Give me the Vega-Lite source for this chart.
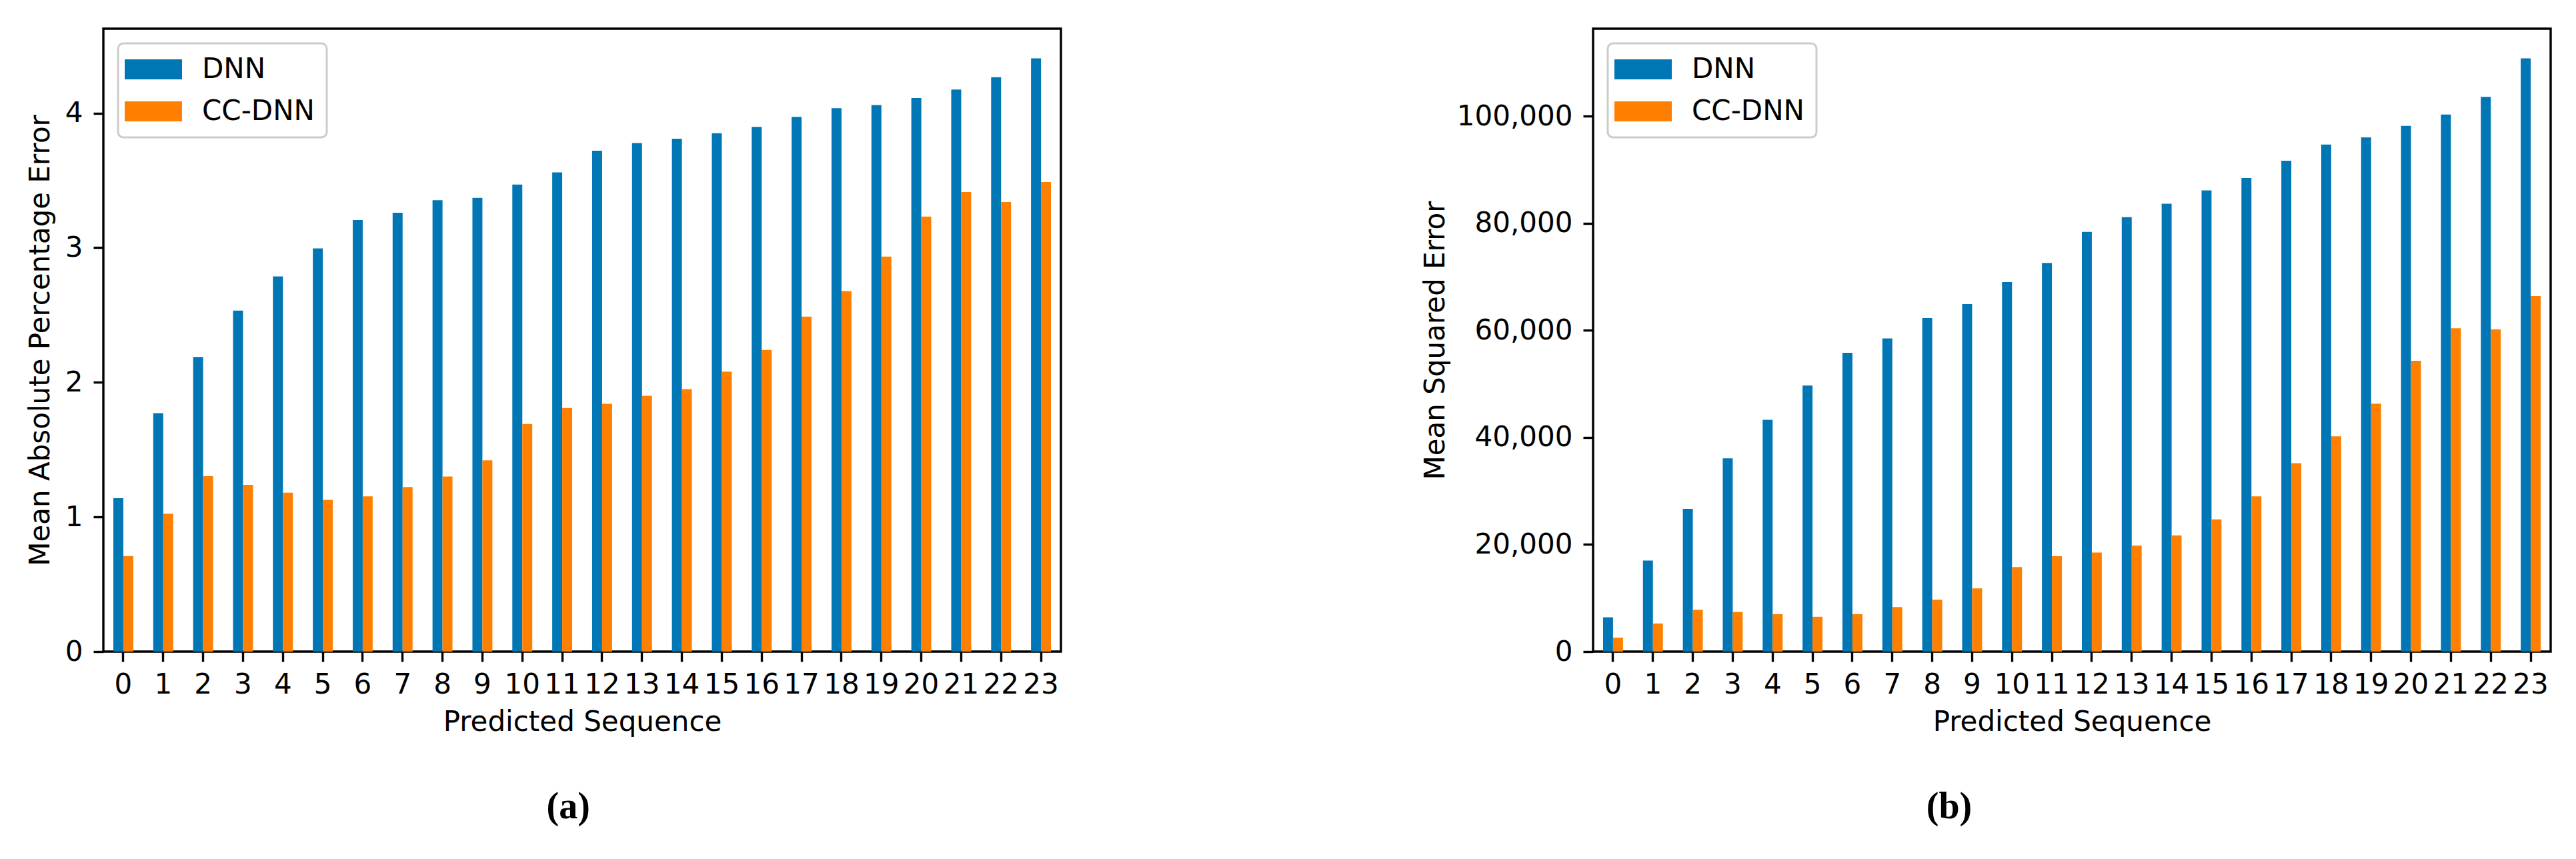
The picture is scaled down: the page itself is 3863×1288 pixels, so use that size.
{
  "$schema": "https://vega.github.io/schema/vega-lite/v6.json",
  "background": "white",
  "padding": {"left": 37, "top": 41, "right": 30, "bottom": 10},
  "datasets": {
    "mape": [
      {"seq": 0, "model": "DNN", "value": 1.140}, {"seq": 0, "model": "CC-DNN", "value": 0.710},
      {"seq": 1, "model": "DNN", "value": 1.771}, {"seq": 1, "model": "CC-DNN", "value": 1.024},
      {"seq": 2, "model": "DNN", "value": 2.189}, {"seq": 2, "model": "CC-DNN", "value": 1.303},
      {"seq": 3, "model": "DNN", "value": 2.533}, {"seq": 3, "model": "CC-DNN", "value": 1.239},
      {"seq": 4, "model": "DNN", "value": 2.786}, {"seq": 4, "model": "CC-DNN", "value": 1.180},
      {"seq": 5, "model": "DNN", "value": 2.995}, {"seq": 5, "model": "CC-DNN", "value": 1.127},
      {"seq": 6, "model": "DNN", "value": 3.205}, {"seq": 6, "model": "CC-DNN", "value": 1.153},
      {"seq": 7, "model": "DNN", "value": 3.260}, {"seq": 7, "model": "CC-DNN", "value": 1.223},
      {"seq": 8, "model": "DNN", "value": 3.352}, {"seq": 8, "model": "CC-DNN", "value": 1.300},
      {"seq": 9, "model": "DNN", "value": 3.370}, {"seq": 9, "model": "CC-DNN", "value": 1.420},
      {"seq": 10, "model": "DNN", "value": 3.469}, {"seq": 10, "model": "CC-DNN", "value": 1.690},
      {"seq": 11, "model": "DNN", "value": 3.559}, {"seq": 11, "model": "CC-DNN", "value": 1.810},
      {"seq": 12, "model": "DNN", "value": 3.721}, {"seq": 12, "model": "CC-DNN", "value": 1.840},
      {"seq": 13, "model": "DNN", "value": 3.777}, {"seq": 13, "model": "CC-DNN", "value": 1.900},
      {"seq": 14, "model": "DNN", "value": 3.810}, {"seq": 14, "model": "CC-DNN", "value": 1.950},
      {"seq": 15, "model": "DNN", "value": 3.850}, {"seq": 15, "model": "CC-DNN", "value": 2.080},
      {"seq": 16, "model": "DNN", "value": 3.898}, {"seq": 16, "model": "CC-DNN", "value": 2.240},
      {"seq": 17, "model": "DNN", "value": 3.972}, {"seq": 17, "model": "CC-DNN", "value": 2.488},
      {"seq": 18, "model": "DNN", "value": 4.036}, {"seq": 18, "model": "CC-DNN", "value": 2.678},
      {"seq": 19, "model": "DNN", "value": 4.060}, {"seq": 19, "model": "CC-DNN", "value": 2.934},
      {"seq": 20, "model": "DNN", "value": 4.112}, {"seq": 20, "model": "CC-DNN", "value": 3.231},
      {"seq": 21, "model": "DNN", "value": 4.175}, {"seq": 21, "model": "CC-DNN", "value": 3.413},
      {"seq": 22, "model": "DNN", "value": 4.266}, {"seq": 22, "model": "CC-DNN", "value": 3.339},
      {"seq": 23, "model": "DNN", "value": 4.407}, {"seq": 23, "model": "CC-DNN", "value": 3.488}
    ],
    "mse": [
      {"seq": 0, "model": "DNN", "value": 6400}, {"seq": 0, "model": "CC-DNN", "value": 2600},
      {"seq": 1, "model": "DNN", "value": 17000}, {"seq": 1, "model": "CC-DNN", "value": 5250},
      {"seq": 2, "model": "DNN", "value": 26650}, {"seq": 2, "model": "CC-DNN", "value": 7800},
      {"seq": 3, "model": "DNN", "value": 36100}, {"seq": 3, "model": "CC-DNN", "value": 7400},
      {"seq": 4, "model": "DNN", "value": 43300}, {"seq": 4, "model": "CC-DNN", "value": 7000},
      {"seq": 5, "model": "DNN", "value": 49700}, {"seq": 5, "model": "CC-DNN", "value": 6500},
      {"seq": 6, "model": "DNN", "value": 55800}, {"seq": 6, "model": "CC-DNN", "value": 7000},
      {"seq": 7, "model": "DNN", "value": 58500}, {"seq": 7, "model": "CC-DNN", "value": 8300},
      {"seq": 8, "model": "DNN", "value": 62300}, {"seq": 8, "model": "CC-DNN", "value": 9700},
      {"seq": 9, "model": "DNN", "value": 64900}, {"seq": 9, "model": "CC-DNN", "value": 11800},
      {"seq": 10, "model": "DNN", "value": 69000}, {"seq": 10, "model": "CC-DNN", "value": 15800},
      {"seq": 11, "model": "DNN", "value": 72600}, {"seq": 11, "model": "CC-DNN", "value": 17800},
      {"seq": 12, "model": "DNN", "value": 78400}, {"seq": 12, "model": "CC-DNN", "value": 18500},
      {"seq": 13, "model": "DNN", "value": 81150}, {"seq": 13, "model": "CC-DNN", "value": 19800},
      {"seq": 14, "model": "DNN", "value": 83650}, {"seq": 14, "model": "CC-DNN", "value": 21700},
      {"seq": 15, "model": "DNN", "value": 86150}, {"seq": 15, "model": "CC-DNN", "value": 24700},
      {"seq": 16, "model": "DNN", "value": 88450}, {"seq": 16, "model": "CC-DNN", "value": 29000},
      {"seq": 17, "model": "DNN", "value": 91700}, {"seq": 17, "model": "CC-DNN", "value": 35200},
      {"seq": 18, "model": "DNN", "value": 94700}, {"seq": 18, "model": "CC-DNN", "value": 40200},
      {"seq": 19, "model": "DNN", "value": 96050}, {"seq": 19, "model": "CC-DNN", "value": 46300},
      {"seq": 20, "model": "DNN", "value": 98200}, {"seq": 20, "model": "CC-DNN", "value": 54300},
      {"seq": 21, "model": "DNN", "value": 100300}, {"seq": 21, "model": "CC-DNN", "value": 60400},
      {"seq": 22, "model": "DNN", "value": 103600}, {"seq": 22, "model": "CC-DNN", "value": 60200},
      {"seq": 23, "model": "DNN", "value": 110800}, {"seq": 23, "model": "CC-DNN", "value": 66400}
    ]
  },
  "config": {
    "font": "DejaVu Sans",
    "view": {"stroke": "black", "strokeWidth": 3.4},
    "axis": {
      "domain": false, "grid": false,
      "tickColor": "black", "tickWidth": 3.4, "tickSize": 15,
      "labelFont": "DejaVu Sans", "labelFontSize": 42, "labelColor": "black",
      "titleFont": "DejaVu Sans", "titleFontSize": 42, "titleFontWeight": "normal", "titleColor": "black"
    },
    "axisX": {"labelAngle": 0, "labelPadding": 14, "titlePadding": 15, "labelOverlap": false},
    "axisY": {"labelPadding": 16, "titlePadding": 15},
    "legend": {
      "orient": "top-left", "offset": 22, "padding": 18, "title": null,
      "strokeColor": "#cccccc", "strokeWidth": 3, "fillColor": "white", "cornerRadius": 8,
      "labelFont": "DejaVu Sans", "labelFontSize": 42, "labelColor": "black", "labelLimit": 0,
      "symbolType": "M-2.867,-1H2.867V1H-2.867Z", "symbolSize": 900,
      "symbolStrokeWidth": 0, "symbolOpacity": 1, "symbolOffset": 14,
      "labelOffset": 52, "rowPadding": 21
    },
    "title": {"font": "Liberation Serif", "fontSize": 56, "fontWeight": "bold", "color": "black", "orient": "bottom", "anchor": "middle", "frame": "bounds"},
    "concat": {"spacing": 536}
  },
  "resolve": {"scale": {"color": "independent"}, "legend": {"color": "independent"}},
  "hconcat": [
    {
      "data": {"name": "mape"},
      "width": 1436, "height": 934,
      "title": {"text": "(a)", "dx": 37, "offset": 80},
      "mark": {"type": "bar"},
      "encoding": {
        "x": {"field": "seq", "type": "ordinal", "scale": {"paddingInner": 0.5, "paddingOuter": 0.25}, "axis": {"title": "Predicted Sequence"}},
        "xOffset": {"field": "model", "type": "nominal", "sort": ["DNN", "CC-DNN"], "scale": {"paddingInner": 0, "paddingOuter": 0}},
        "y": {"field": "value", "type": "quantitative", "scale": {"domain": [0, 4.627], "nice": false}, "axis": {"values": [0, 1, 2, 3, 4], "title": "Mean Absolute Percentage Error"}},
        "color": {"field": "model", "type": "nominal", "sort": ["DNN", "CC-DNN"], "scale": {"domain": ["DNN", "CC-DNN"], "range": ["#0076b5", "#ff7f00"]}}
      }
    },
    {
      "data": {"name": "mse"},
      "width": 1436, "height": 934,
      "title": {"text": "(b)", "dx": -55, "offset": 80},
      "mark": {"type": "bar"},
      "encoding": {
        "x": {"field": "seq", "type": "ordinal", "scale": {"paddingInner": 0.5, "paddingOuter": 0.25}, "axis": {"title": "Predicted Sequence"}},
        "xOffset": {"field": "model", "type": "nominal", "sort": ["DNN", "CC-DNN"], "scale": {"paddingInner": 0, "paddingOuter": 0}},
        "y": {"field": "value", "type": "quantitative", "scale": {"domain": [0, 116350], "nice": false}, "axis": {"values": [0, 20000, 40000, 60000, 80000, 100000], "format": ",d", "title": "Mean Squared Error"}},
        "color": {"field": "model", "type": "nominal", "sort": ["DNN", "CC-DNN"], "scale": {"domain": ["DNN", "CC-DNN"], "range": ["#0076b5", "#ff7f00"]}}
      }
    }
  ]
}
